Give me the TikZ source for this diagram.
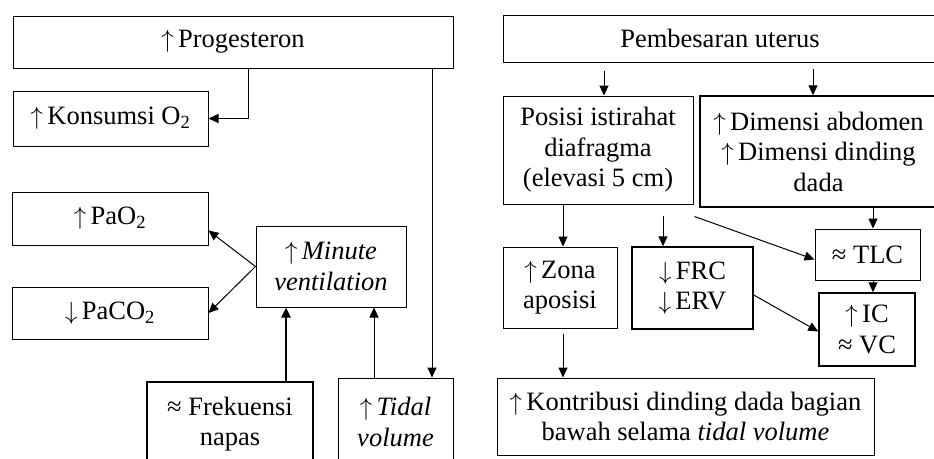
\documentclass[tikz,border=0pt]{standalone}
\usepackage{fontspec}
\setmainfont{Liberation Serif}
\usetikzlibrary{arrows.meta, positioning, calc}

\newcommand{\up}{$\uparrow$\,}
\newcommand{\down}{$\downarrow$\,}

\begin{document}
\begin{tikzpicture}[
        x=1pt, y=-1pt,
        box/.style={rectangle, draw, fill=white, line width=1pt, align=center, inner sep=2pt, font=\fontsize{26.5}{30.5}\selectfont},
        arrow/.style={line width=1pt, -{Triangle[length=10pt, width=9pt]}}
    ]
        \clip (0,0) rectangle (934,458);

        % left part
        \node (prog) [box, minimum width=440pt, minimum height=52pt] at (233,42) {\up Progesteron};
        \node (ko2) [box, minimum width=195pt, minimum height=55pt] at (110.5,118.5) {\up Konsumsi O\textsubscript{2}};
        \node (pao2) [box, minimum width=196pt, minimum height=53pt] at (110,218.5) {\up PaO\textsubscript{2}};
        \node (paco2) [box, minimum width=196pt, minimum height=52pt] at (110,313) {\down PaCO\textsubscript{2}};
        \node (minvent) [box, minimum width=150pt, minimum height=81pt] at (331,266.5) {\up \textit{Minute}\\\textit{ventilation}};
        \node (frek) [box, line width=2pt, minimum width=166pt, minimum height=84pt] at (230,424) {≈ Frekuensi\\napas};
        \node (tidal) [box, minimum width=115pt, minimum height=88pt] at (395.5,422) {\up \textit{Tidal}\\\textit{volume}};

        \draw [arrow] ([xshift=15pt]prog.south) |- (ko2.east);
        \draw [arrow] ([xshift=36.5pt]tidal.north |- prog.south) -- ([xshift=36.5pt]tidal.north);
        \draw [arrow] (minvent.west) -- ([yshift=-12pt]pao2.east);
        \draw [arrow] (minvent.west) -- (paco2.east);
        \draw [arrow, line width=2.5pt] ([xshift=56pt]frek.north) -- ([xshift=56pt]frek.north |- minvent.south);
        \draw [arrow] ([xshift=-21.5pt]tidal.north) -- ([xshift=-21.5pt]tidal.north |- minvent.south);

        % right part
        \node (uterus) [box, minimum width=434pt, minimum height=47pt] at (720,38.5) {Pembesaran uterus};
        \node (posisi) [box, minimum width=190pt, minimum height=108pt] at (598,150) {Posisi istirahat\\diafragma\\(elevasi 5 cm)};
        \node (dimensi) [box, line width=1.5pt, minimum width=237pt, minimum height=111pt] at (818.5,151.5) {\up Dimensi abdomen\\\up Dimensi dinding\\dada};
        \node (zona) [box, minimum width=114pt, minimum height=81pt] at (560,287.5) {\up Zona\\aposisi};
        \node (frc) [box, line width=1.5pt, minimum width=121pt, minimum height=82pt] at (692.5,288) {\down FRC\\\down ERV};
        \node (tlc) [box, minimum width=105pt, minimum height=51pt] at (867.5,254.5) {≈ TLC};
        \node (icvc) [box, line width=1.5pt, minimum width=96pt, minimum height=73pt] at (867,329.5) {\up IC\\≈ VC};
        \node (kontrib) [box, minimum width=377pt, minimum height=77pt] at (685.5,416.5) {\up Kontribusi dinding dada bagian\\bawah selama \textit{tidal volume}};

        \draw [arrow, shorten <=8pt] ([xshift=6pt]posisi.north |- uterus.south) -- ([xshift=6pt]posisi.north);
        \draw [arrow, shorten <=6pt] ([xshift=-5.5pt]dimensi.north |- uterus.south) -- ([xshift=-5.5pt]dimensi.north);
        \draw [arrow] ([xshift=3pt]zona.north |- posisi.south) -- ([xshift=3pt]zona.north);
        \draw [arrow, shorten <=11pt] ([xshift=-29.5pt]frc.north |- posisi.south) -- ([xshift=-29.5pt]frc.north);
        \draw [arrow] ([xshift=1pt, yshift=-12pt]posisi.south east) -- ([yshift=-5pt]tlc.west);
        \draw [arrow] ([xshift=5.5pt]tlc.north |- dimensi.south) -- ([xshift=5.5pt]tlc.north);
        \draw [arrow] ([xshift=6pt]icvc.north |- tlc.south) -- ([xshift=6pt]icvc.north);
        \draw [arrow] ([yshift=-7pt]frc.east) -- ([yshift=-2pt]icvc.west);
        \draw [arrow, shorten <=5pt] ([xshift=3pt]zona.south) -- ([xshift=3pt]zona.south |- kontrib.north);
\end{tikzpicture}
\end{document}
